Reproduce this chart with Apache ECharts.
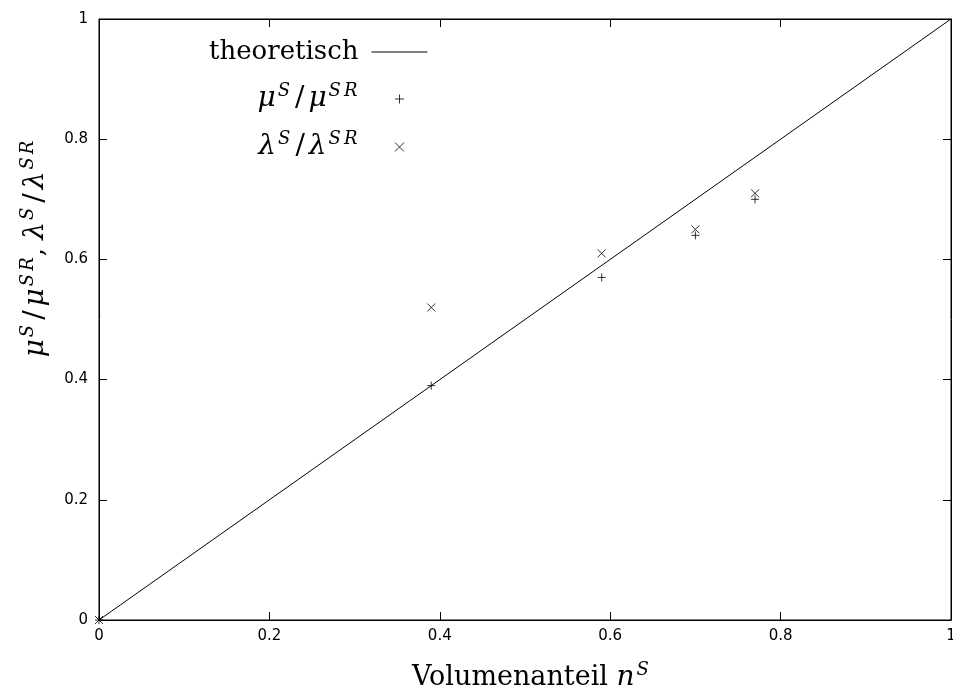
<!DOCTYPE html>
<html><head><meta charset="utf-8">
<script src="https://cdn.jsdelivr.net/npm/echarts@6/dist/echarts.min.js"></script>
<style>html,body{margin:0;padding:0;background:#fff}#c{width:953px;height:691px}</style>
</head><body><div id="c"></div>
<script>
const theoryLine = [[0, 0], [1, 1]];
const volumeFraction = [0, 0.39, 0.59, 0.70, 0.77];
const muRatio = [0, 0.39, 0.57, 0.64, 0.70];
const lambdaRatio = [0, 0.52, 0.61, 0.65, 0.71];
const tickLabels = ['0', '0.2', '0.4', '0.6', '0.8', '1'];

const plusPath = 'path://M0,5 L10,5 M5,0 L5,10';
const crossPath = 'path://M0,0 L10,10 M0,10 L10,0';

const serif = '"DejaVu Serif","Liberation Serif",serif';
const rich = {
  t: {fontFamily: serif, fontSize: 26, color: '#000'},
  tx: {fontFamily: serif, fontSize: 27, color: '#000'},
  i: {fontFamily: serif, fontSize: 28, fontStyle: 'italic', color: '#000'},
  sl: {fontFamily: serif, fontSize: 28, color: '#000', padding: [0, 4, 0, 4]},
  s: {fontFamily: serif, fontSize: 18, fontStyle: 'italic', color: '#000', padding: [0, 1, 16, 2]},
  gapY: {width: 142},
  gapX: {width: 12}
};
const muText = '{i|μ}{s|S}{sl|/}{i|μ}{s|S}{s|R}';
const lambdaText = '{i|λ}{s|S}{sl|/}{i|λ}{s|S}{s|R}';
const fmt = v => tickLabels[Math.round(v * 5)];
const tickFont = '"DejaVu Sans","Liberation Sans",Arial,sans-serif';
const hidden = {color: 'rgba(0,0,0,0)', borderColor: 'rgba(0,0,0,0)', borderWidth: 0};
const stroked = {color: 'none', borderColor: '#000', borderWidth: 1};

const chart = echarts.init(document.getElementById('c'));
chart.setOption({
  animation: false,
  backgroundColor: '#fff',
  grid: {left: 99, right: 2, top: 19, bottom: 71, show: true, borderColor: '#000', borderWidth: 1,
         outerBoundsMode: 'none', containLabel: false},
  legend: {
    orient: 'vertical', align: 'right', right: 520, top: 34, itemGap: 17,
    itemWidth: 56, itemHeight: 9,
    textStyle: {rich: rich, fontFamily: serif, fontSize: 26, color: '#000', padding: [0, 8, 0, 0]},
    formatter: function (n) {
      if (n === 'theoretisch') return '{t|theoretisch}';
      if (n === 'mu') return muText;
      return lambdaText;
    },
    data: [
      {name: 'theoretisch', itemStyle: hidden, lineStyle: {color: '#000', width: 1}},
      {name: 'mu', icon: plusPath, itemStyle: stroked},
      {name: 'lambda', icon: crossPath, itemStyle: stroked}
    ]
  },
  xAxis: [{
    type: 'value', min: 0, max: 1, interval: 0.2,
    name: '{gapX|}{tx|Volumenanteil }{i|n}{s|S}', nameLocation: 'middle', nameGap: 41,
    nameTextStyle: {rich: rich},
    axisLine: {onZero: false, lineStyle: {color: '#000', width: 1}},
    axisTick: {inside: true, length: 8, lineStyle: {color: '#000'}},
    axisLabel: {formatter: fmt, color: '#000', fontSize: 15, fontFamily: tickFont, margin: 9},
    splitLine: {show: false}
  }, {
    type: 'value', min: 0, max: 1, interval: 0.2, position: 'top',
    axisLine: {onZero: false, lineStyle: {color: '#000'}},
    axisTick: {inside: true, length: 8, lineStyle: {color: '#000'}},
    axisLabel: {show: false}, splitLine: {show: false}
  }],
  yAxis: [{
    type: 'value', min: 0, max: 1, interval: 0.2,
    name: '{gapY|}' + muText + '{t|, }' + lambdaText,
    nameLocation: 'middle', nameGap: 46, nameRotate: 90,
    nameTextStyle: {rich: rich},
    axisLine: {onZero: false, lineStyle: {color: '#000', width: 1}},
    axisTick: {inside: true, length: 8, lineStyle: {color: '#000'}},
    axisLabel: {formatter: fmt, color: '#000', fontSize: 15, fontFamily: tickFont, margin: 11},
    splitLine: {show: false}
  }, {
    type: 'value', min: 0, max: 1, interval: 0.2, position: 'right',
    axisLine: {onZero: false, lineStyle: {color: '#000'}},
    axisTick: {inside: true, length: 8, lineStyle: {color: '#000'}},
    axisLabel: {show: false}, splitLine: {show: false}
  }],
  series: [
    {name: 'theoretisch', type: 'line', data: theoryLine, symbol: 'none',
     lineStyle: {color: '#000', width: 1}, itemStyle: {color: '#000'}},
    {name: 'mu', type: 'scatter', data: volumeFraction.map((x, k) => [x, muRatio[k]]),
     symbol: plusPath, symbolSize: 8, itemStyle: stroked},
    {name: 'lambda', type: 'scatter', data: volumeFraction.map((x, k) => [x, lambdaRatio[k]]),
     symbol: crossPath, symbolSize: 8, itemStyle: stroked}
  ]
});
</script></body></html>
